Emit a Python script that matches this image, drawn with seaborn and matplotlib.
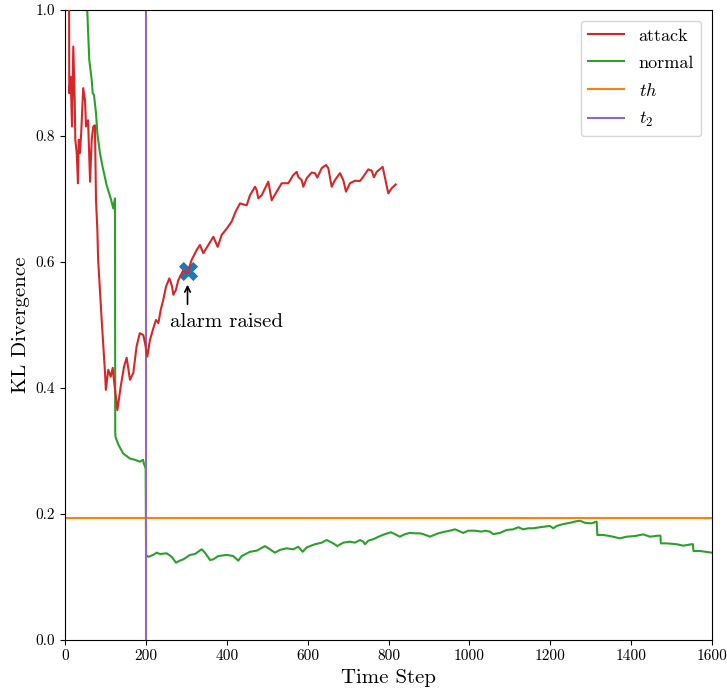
import matplotlib
matplotlib.use("Agg")
import matplotlib.pyplot as plt
import seaborn as sns
import pandas as pd

# ---------------- data ----------------
attack_x = [10, 10.5, 14, 17.3, 20.5, 24, 25.5, 29, 32, 34, 37, 40, 45, 49.5, 52, 57, 62, 66, 70, 74,
            76.7, 80, 82, 90.7, 99, 101, 107, 113, 118, 121, 129.5, 137.7, 146, 152.5, 160.7, 169, 177, 185, 193.6, 198,
            203.6, 210, 218.5, 225, 231, 236.6, 243, 249.8, 258, 264, 268, 274.5, 280, 292.6, 302.5, 313, 325.6, 333.8, 342, 354.5,
            366.8, 377.6, 387.5, 400, 412, 422, 432.7, 449.3, 457.5, 469.9, 474, 478, 486.4, 502.7, 511.1, 523.5, 535.8, 552.2, 564.5, 573,
            577, 585.3, 589.3, 597.7, 610, 618.2, 624, 634.8, 645.4, 651.1, 659.5, 667.7, 680, 688.2, 694.9, 704.7, 717.1, 729.5, 737.6, 750,
            758.4, 764.1, 770.8, 785.6, 799.5, 807.9, 817.7]
attack_y = [1.05, 0.868, 0.894, 0.815, 0.942, 0.857, 0.794, 0.773, 0.725, 0.794, 0.773, 0.804, 0.876, 0.857, 0.815, 0.825, 0.7275, 0.794, 0.815, 0.817,
            0.698, 0.651, 0.603, 0.508, 0.424, 0.397, 0.429, 0.418, 0.432, 0.413, 0.365, 0.402, 0.434, 0.448, 0.413, 0.424, 0.466, 0.487, 0.484, 0.471,
            0.450, 0.476, 0.495, 0.508, 0.503, 0.524, 0.540, 0.561, 0.574, 0.563, 0.548, 0.556, 0.571, 0.587, 0.582, 0.603, 0.619, 0.627, 0.614, 0.627,
            0.640, 0.624, 0.643, 0.653, 0.664, 0.680, 0.693, 0.690, 0.706, 0.7195, 0.714, 0.701, 0.706, 0.7275, 0.698, 0.7116, 0.725, 0.725, 0.738, 0.743,
            0.735, 0.730, 0.7195, 0.733, 0.742, 0.741, 0.734, 0.749, 0.754, 0.749, 0.7195, 0.730, 0.741, 0.730, 0.7116, 0.725, 0.729, 0.7286, 0.7354, 0.747,
            0.745, 0.7344, 0.743, 0.751, 0.709, 0.717, 0.723]

normal_x = [50, 55, 60, 66, 68.5, 71.7, 76.7, 80, 86.5, 93, 103, 113, 119.5, 123.6, 124.2, 125, 132, 144, 160.7, 173,
            185, 193, 195, 198, 199.5, 200.5, 206, 218, 226.7, 235, 251.5, 264, 274.5, 284, 292.5, 309, 321.5, 338, 346, 358.6,
            366.7, 379, 400, 416, 428.5, 437, 457.5, 474, 494.6, 507, 519, 531.6, 548, 564.5, 577, 587.7, 597.7, 618, 634.8, 647,
            663.5, 673.5, 688, 704.7, 717, 729.5, 737.6, 742, 750, 762.4, 779, 791, 806, 816, 828, 840.7, 853, 865.5, 877.8, 886,
            902.6, 923, 939.7, 952, 964.4, 972.6, 985, 997.3, 1014, 1030, 1038.6, 1051, 1059, 1075.7, 1092, 1108.6, 1121, 1133, 1145.7, 1158,
            1174.6, 1199, 1207.5, 1215.8, 1232, 1248.8, 1261, 1273.5, 1285.9, 1302.4, 1314.8, 1316.5, 1331, 1347.7, 1372, 1389, 1409.5, 1430, 1446.6, 1467,
            1472.5, 1473.5, 1488, 1512.6, 1529, 1549.7, 1553, 1554, 1570, 1600]
normal_y = [1.08, 1.0, 0.921, 0.889, 0.868, 0.865, 0.836, 0.804, 0.773, 0.751, 0.722, 0.701, 0.685, 0.701, 0.33, 0.322, 0.31, 0.296, 0.288, 0.286,
            0.283, 0.286, 0.280, 0.275, 0.272, 0.135, 0.132, 0.135, 0.1386, 0.1365, 0.1376, 0.132, 0.1227, 0.126, 0.128, 0.135, 0.1365, 0.144, 0.1386, 0.127,
            0.128, 0.1333, 0.135, 0.1333, 0.126, 0.1333, 0.140, 0.1418, 0.149, 0.144, 0.1386, 0.143, 0.1455, 0.144, 0.148, 0.140, 0.147, 0.152, 0.1545, 0.1587,
            0.1534, 0.149, 0.1545, 0.156, 0.1545, 0.1587, 0.156, 0.152, 0.1577, 0.160, 0.165, 0.168, 0.171, 0.168, 0.164, 0.168, 0.170, 0.1693, 0.1693, 0.168,
            0.164, 0.1693, 0.172, 0.1735, 0.1757, 0.1735, 0.170, 0.1735, 0.1735, 0.172, 0.1735, 0.172, 0.168, 0.170, 0.1746, 0.1757, 0.179, 0.1757, 0.1773, 0.1773,
            0.179, 0.181, 0.1773, 0.181, 0.184, 0.186, 0.188, 0.1894, 0.186, 0.1852, 0.188, 0.1667, 0.1667, 0.165, 0.1614, 0.164, 0.165, 0.1677, 0.164, 0.1656,
            0.1656, 0.1534, 0.1534, 0.152, 0.1497, 0.152, 0.152, 0.1413, 0.1413, 0.1386]

threshold = 0.193
t2 = 200
alarm_x = [303]
alarm_y = [0.585]

x_ticks = [0, 200, 400, 600, 800, 1000, 1200, 1400, 1600]
y_ticks = [0.0, 0.2, 0.4, 0.6, 0.8, 1.0]

# ---------------- style ----------------
plt.rcParams['font.family'] = ['cmr10', 'DejaVu Serif']
plt.rcParams['mathtext.fontset'] = 'cm'
plt.rcParams['axes.formatter.use_mathtext'] = True
plt.rcParams['axes.unicode_minus'] = False

attack_df = pd.DataFrame({'step': attack_x, 'kl': attack_y})
normal_df = pd.DataFrame({'step': normal_x, 'kl': normal_y})
alarm_df = pd.DataFrame({'step': alarm_x, 'kl': alarm_y})

fig, ax = plt.subplots(figsize=(7.27, 6.9), dpi=100)
fig.subplots_adjust(left=65/727, right=712/727, top=1-10/690, bottom=1-640/690)

sns.scatterplot(data=alarm_df, x='step', y='kl', marker='X', s=190, color='#1f77b4',
                linewidth=0, ax=ax, legend=False, zorder=1)
sns.lineplot(data=attack_df, x='step', y='kl', color='#d62728', lw=1.5, label='attack',
             estimator=None, sort=False, ax=ax, zorder=3)
sns.lineplot(data=normal_df, x='step', y='kl', color='#2ca02c', lw=1.5, label='normal',
             estimator=None, sort=False, ax=ax, zorder=2)
ax.axhline(threshold, color='#ff7f0e', lw=1.5, label='$th$', zorder=2)
ax.axvline(t2, color='#9467bd', lw=1.5, label='$t_2$', zorder=2)

ax.text(259.6, 0.497, 'alarm raised', fontsize=15, va='baseline', ha='left')
ax.annotate('', xy=(303, 0.564), xytext=(303, 0.533),
            arrowprops=dict(arrowstyle='->', color='black', lw=1.2, shrinkA=0, shrinkB=0))

ax.set_xlim(0, 1600)
ax.set_ylim(0, 1.0)
ax.set_xticks(x_ticks)
ax.set_yticks(y_ticks)
ax.set_xticklabels([str(v) for v in x_ticks])
ax.set_yticklabels([f'{v:.1f}' for v in y_ticks])
ax.tick_params(labelsize=11)
ax.set_xlabel('Time Step', fontsize=15)
ax.set_ylabel('KL Divergence', fontsize=15)

ax.legend(loc='upper right', fontsize=13, labelspacing=0.62, borderaxespad=0.6)

fig.savefig('out.png', dpi=100)
